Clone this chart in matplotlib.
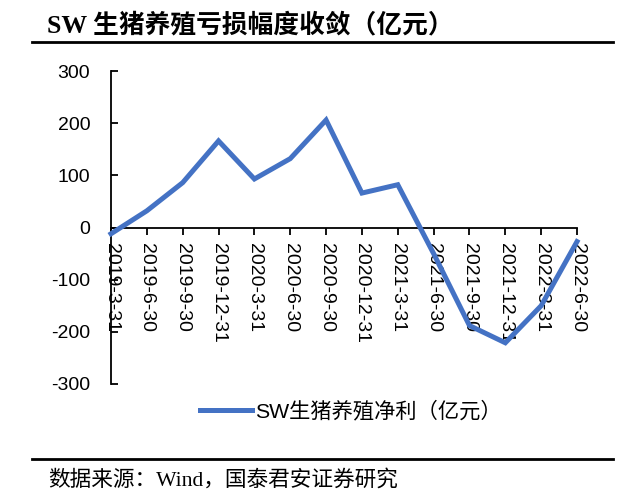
import numpy as np
import matplotlib.pyplot as plt
from matplotlib.lines import Line2D

dates = ['2019-3-31', '2019-6-30', '2019-9-30', '2019-12-31', '2020-3-31',
         '2020-6-30', '2020-9-30', '2020-12-31', '2021-3-31', '2021-6-30',
         '2021-9-30', '2021-12-31', '2022-3-31', '2022-6-30']
profit = [-12, 32, 86, 166, 93, 132, 206, 66, 82, -50, -188, -221, -150, -27]
yticks = [-300, -200, -100, 0, 100, 200, 300]

blue = '#4472C4'
cjk_sans = ['Liberation Sans', 'Noto Sans CJK SC']
cjk_serif = ['Liberation Serif', 'Noto Sans CJK SC']

fig = plt.figure(figsize=(6.39, 4.95), dpi=100)
ax = fig.add_axes([111/639, 1-384/495, (577-111)/639, (384-71)/495])

x = np.arange(len(dates))
ax.plot(x, profit, color=blue, lw=3.6, solid_joinstyle='miter', clip_on=False,
        zorder=3)

ax.set_xlim(0, len(dates) - 1)
ax.set_ylim(-300, 300)
for s in ['top', 'right']:
    ax.spines[s].set_visible(False)
ax.spines['bottom'].set_position(('data', 0))
ax.spines['left'].set_linewidth(1.3)
ax.spines['bottom'].set_linewidth(1.3)
ax.tick_params(axis='y', direction='in', length=5, width=1.3, pad=15)
ax.tick_params(axis='x', direction='out', length=5, width=1.3, pad=6)

ax.set_yticks(yticks)
ax.set_yticklabels([str(v) for v in yticks], family=cjk_sans, fontsize=14)
ax.set_xticks(x)
ax.set_xticklabels(dates, family=cjk_sans, fontsize=14)
for lab in ax.get_xticklabels():
    lab.set_rotation(270)
    lab.set_va('top')
    lab.set_ha('center')

# legend
h = Line2D([], [], color=blue, lw=3.6)
fig.legend([h], ['SW生猪养殖净利（亿元）'], loc='center',
           bbox_to_anchor=(351/639, 1-411/495), frameon=False,
           prop={'family': cjk_sans, 'size': 15.3}, handlelength=2.45,
           handletextpad=0.15)

# title and source
fig.text(47/639, 1-25/495, 'SW 生猪养殖亏损幅度收敛（亿元）', family=cjk_serif,
         fontsize=18.5, fontweight='bold', va='center', ha='left')
fig.add_artist(Line2D([32/639, 613/639], [1-42/495, 1-42/495], color='black',
                      lw=2))
fig.add_artist(Line2D([32/639, 613/639], [1-459/495, 1-459/495], color='black',
                      lw=2))
fig.text(48/639, 1-480/495, '数据来源：Wind，国泰君安证券研究', family=cjk_serif,
         fontsize=15.6, va='center', ha='left')

fig.savefig('out.png', dpi=100)
